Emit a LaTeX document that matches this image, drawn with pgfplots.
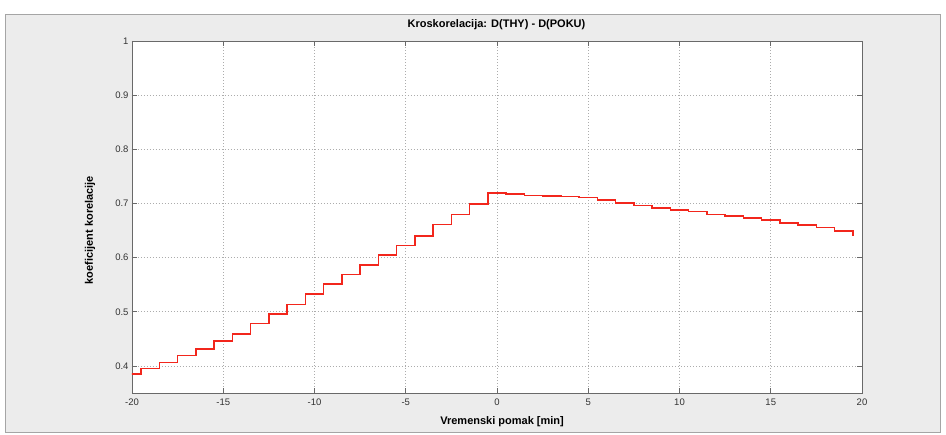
\documentclass[border=0pt]{standalone}
\usepackage{fontspec}
\setmainfont{Liberation Sans}
\usepackage{pgfplots}
\pgfplotsset{compat=1.18}
\definecolor{figgray}{RGB}{236,236,236}
\definecolor{framegray}{RGB}{165,165,165}
\definecolor{axgray}{RGB}{105,105,105}
\definecolor{stepred}{RGB}{242,38,28}

\begin{document}
\begin{tikzpicture}
% page and MATLAB-like figure panel
\path[use as bounding box, fill=white] (-132pt,-42pt) rectangle (814pt,393pt);
\filldraw[fill=figgray, draw=framegray, line width=0.8pt] (-127pt,-39pt) rectangle (808pt,379pt);
\begin{axis}[
    scale only axis,
    width=730pt, height=352pt,
    xmin=-20, xmax=20, ymin=0.35, ymax=1,
    xtick={-20,-15,-10,-5,0,5,10,15,20},
    xticklabels={-20,-15,-10,-5,0,5,10,15,20},
    ytick={0.4,0.5,0.6,0.7,0.8,0.9,1},
    yticklabels={0.4,0.5,0.6,0.7,0.8,0.9,1},
    tick align=inside,
    major tick length=5pt,
    axis line style={axgray, line width=0.7pt},
    tick style={axgray, line width=0.7pt},
    grid=major,
    major grid style={dash pattern=on 0.8pt off 2.2pt, gray!65, line width=0.6pt},
    axis background/.style={fill=white},
    ticklabel style={font=\fontsize{9.5}{11}\selectfont, text=black!80},
    xticklabel style={yshift=-2pt},
    every axis title shift=0pt,
    title={Kroskorelacija: D(THY) - D(POKU)},
    title style={at={(axis description cs:0.4993,1.0455)}, anchor=center,
                 font=\fontsize{11}{13}\selectfont\bfseries},
    xlabel={Vremenski pomak [min]},
    xlabel style={at={(axis description cs:0.507,-0.0815)}, anchor=center,
                  font=\fontsize{11}{13}\selectfont\bfseries},
    ylabel={koeficijent korelacije},
    ylabel style={at={(axis description cs:-0.0575,0.463)}, anchor=center,
                  font=\fontsize{11}{13}\selectfont\bfseries},
]
\addplot[const plot mark left, stepred, line width=1.5pt] coordinates {
(-20.5,0.385) (-19.5,0.395) (-18.5,0.406) (-17.5,0.419) (-16.5,0.431)
(-15.5,0.446) (-14.5,0.459) (-13.5,0.478) (-12.5,0.496) (-11.5,0.513)
(-10.5,0.533) (-9.5,0.551) (-8.5,0.569) (-7.5,0.586) (-6.5,0.605)
(-5.5,0.622) (-4.5,0.640) (-3.5,0.661) (-2.5,0.680) (-1.5,0.699)
(-0.5,0.719) (0.5,0.717) (1.5,0.715) (2.5,0.714) (3.5,0.713)
(4.5,0.711) (5.5,0.706) (6.5,0.701) (7.5,0.696) (8.5,0.692)
(9.5,0.688) (10.5,0.685) (11.5,0.680) (12.5,0.677) (13.5,0.673)
(14.5,0.669) (15.5,0.664) (16.5,0.660) (17.5,0.656) (18.5,0.649)
(19.5,0.640)
};
\end{axis}
\end{tikzpicture}
\end{document}
